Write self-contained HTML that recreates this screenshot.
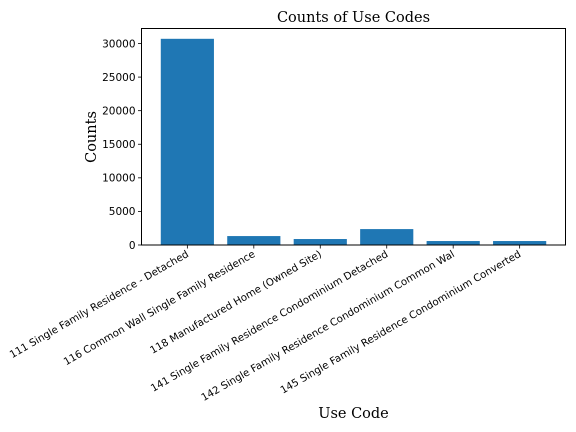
<!DOCTYPE html>
<html><head><meta charset="utf-8"><style>
html,body{margin:0;padding:0;background:#fff;}
svg{display:block;}
</style></head><body>
<svg id="chart" width="576" height="432" viewBox="0 0 576 432" xmlns="http://www.w3.org/2000/svg">
<rect x="0" y="0" width="576" height="432" fill="#fff"/>
<text x="353.5" y="22" text-anchor="middle" font-family="'DejaVu Serif','Liberation Serif',serif" font-size="14.5">Counts of Use Codes</text>
<text transform="translate(96,137) rotate(-90)" text-anchor="middle" font-family="'DejaVu Serif','Liberation Serif',serif" font-size="14.5">Counts</text>
<text x="353.5" y="418" text-anchor="middle" font-family="'DejaVu Serif','Liberation Serif',serif" font-size="14.5">Use Code</text>
<g id="bars"></g>
<g id="yticks"></g>
<g id="xticks"></g>
<rect x="141.5" y="28.5" width="424" height="216.5" fill="none" stroke="#000" stroke-width="1"/>
</svg>
<script>
const categories = ["111 Single Family Residence - Detached","116 Common Wall Single Family Residence","118 Manufactured Home (Owned Site)","141 Single Family Residence Condominium Detached","142 Single Family Residence Condominium Common Wal","145 Single Family Residence Condominium Converted"];
const counts = [30700, 1330, 890, 2370, 590, 590];
const yTicks = [0, 5000, 10000, 15000, 20000, 25000, 30000];

const NS = "http://www.w3.org/2000/svg";
const L = 141.5, R = 565.5, T = 28.5, B = 245;
const xmin = -0.69, xmax = categories.length - 1 + 0.69;
const ymax = Math.max(...counts) * 1.05;
const xs = v => L + (v - xmin) / (xmax - xmin) * (R - L);
const ys = v => B - v / ymax * (B - T);
function mk(tag, attrs){const e=document.createElementNS(NS,tag);for(const k in attrs)e.setAttribute(k,attrs[k]);return e;}
const bars=document.getElementById('bars'), yt=document.getElementById('yticks'), xt=document.getElementById('xticks');
counts.forEach((c,i)=>{
  const r=mk('rect',{x:xs(i-0.4),y:ys(c),width:xs(i+0.4)-xs(i-0.4),height:B-ys(c),fill:'#1f77b4'});
  
  
  bars.appendChild(r);
  const tk=mk('line',{x1:xs(i),x2:xs(i),y1:B,y2:B+3.5,stroke:'#000','stroke-width':0.8});
  
  
  xt.appendChild(tk);
  const t=mk('text',{transform:`translate(${xs(i)+2},${B+11}) rotate(-30)`,'text-anchor':'end','font-family':"'DejaVu Sans','Liberation Sans',sans-serif",'font-size':10.2});
  t.textContent=categories[i];
  
  
  xt.appendChild(t);
});
yTicks.forEach(v=>{
  const tk=mk('line',{x1:L-3.5,x2:L,y1:ys(v),y2:ys(v),stroke:'#000','stroke-width':0.8});
  
  
  yt.appendChild(tk);
  const t=mk('text',{x:L-6,y:ys(v)+3.8,'text-anchor':'end','font-family':"'DejaVu Sans','Liberation Sans',sans-serif",'font-size':10.5});
  t.textContent=v;
  
  
  yt.appendChild(t);
});
</script>
</body></html>
